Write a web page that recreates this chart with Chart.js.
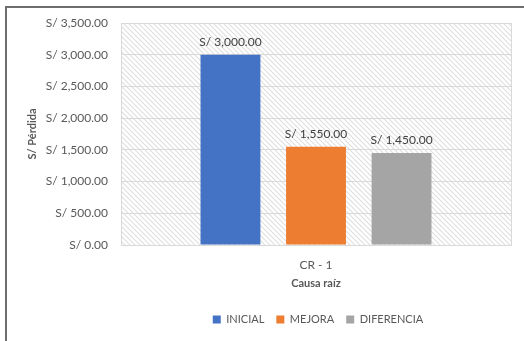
<!DOCTYPE html>
<html>
<head>
<meta charset="utf-8">
<script src="https://cdn.jsdelivr.net/npm/chart.js@4/dist/chart.umd.min.js"></script>
<style>
  html, body { margin: 0; padding: 0; background: #fff; overflow: hidden; }
  #frame { position: absolute; left: 5px; top: 6px; width: 700px; height: 500px; border: 2px solid #6e6e6e; box-sizing: border-box; }
  #wrap { position: absolute; left: 0; top: 0; width: 524px; height: 341px; }
</style>
</head>
<body>
<div id="frame"></div>
<div id="wrap"><canvas id="c" width="524" height="341"></canvas></div>
<script>
const categories = ["CR - 1"];
const seriesNames = ["INICIAL", "MEJORA", "DIFERENCIA"];
const inicial = [3000];
const mejora = [1550];
const diferencia = [1450];
const yTicks = [0, 500, 1000, 1500, 2000, 2500, 3000, 3500];
const colors = ["#4472c4", "#ed7d31", "#a5a5a5"];

const fmt = v => "S/ " + v.toLocaleString("en-US", {minimumFractionDigits: 2, maximumFractionDigits: 2});

function makePattern(ctx) {
  const t = document.createElement("canvas");
  t.width = 5; t.height = 5;
  const g = t.getContext("2d");
  g.fillStyle = "#ffffff"; g.fillRect(0, 0, 5, 5);
  g.strokeStyle = "#dedede"; g.lineWidth = 1.1;
  g.beginPath();
  g.moveTo(-1, -1); g.lineTo(6, 6);
  g.moveTo(-6, -1); g.lineTo(1, 6);
  g.moveTo(4, -1); g.lineTo(11, 6);
  g.stroke();
  return ctx.createPattern(t, "repeat");
}

const hatchPlugin = {
  id: "hatch",
  afterLayout(chart) {
    const lg = chart.legend, a = chart.chartArea;
    if (lg && a) {
      const shift = (a.left + a.right) / 2 - (lg.left + lg.right) / 2 + 2;
      lg.left += shift; lg.right += shift;
    }
  },
  beforeDraw(chart) {
    const {ctx, chartArea: a} = chart;
    ctx.save();
    ctx.fillStyle = makePattern(ctx);
    ctx.fillRect(a.left, a.top, a.right - a.left, a.bottom - a.top);
    ctx.restore();
  },
  afterDraw(chart) {
    const {ctx, chartArea: a} = chart;
    ctx.save();
    ctx.strokeStyle = "#d9d9d9"; ctx.lineWidth = 1;
    ctx.strokeRect(Math.round(a.left) + 0.5, Math.round(a.top) + 0.5, Math.round(a.right - a.left), Math.round(a.bottom - a.top));
    ctx.restore();
  }
};

const labelPlugin = {
  id: "barLabels",
  afterDatasetsDraw(chart) {
    const ctx = chart.ctx;
    ctx.save();
    ctx.font = "12px Lato";
    ctx.fillStyle = "#404040";
    ctx.textAlign = "center";
    ctx.textBaseline = "bottom";
    chart.data.datasets.forEach((ds, i) => {
      const meta = chart.getDatasetMeta(i);
      meta.data.forEach((el, j) => {
        ctx.fillText(fmt(ds.data[j]), el.x, el.y - 7);
      });
    });
    ctx.restore();
  }
};

new Chart(document.getElementById("c"), {
  type: "bar",
  data: {
    labels: categories,
    datasets: [
      { label: seriesNames[0], data: inicial, backgroundColor: colors[0] },
      { label: seriesNames[1], data: mejora, backgroundColor: colors[1] },
      { label: seriesNames[2], data: diferencia, backgroundColor: colors[2] }
    ]
  },
  options: {
    responsive: false,
    animation: false,
    devicePixelRatio: 1,
    barPercentage: 0.7,
    categoryPercentage: 0.658,
    layout: { padding: { left: 20, right: 13, top: 23, bottom: 6 } },
    plugins: {
      legend: {
        position: "bottom",
        labels: {
          boxWidth: 8, boxHeight: 8, padding: 12,
          color: "#595959",
          font: { family: "Lato", size: 11 }
        }
      },
      tooltip: { enabled: false }
    },
    scales: {
      x: {
        afterFit(scale) { scale.height = 57; },
        grid: { display: false, drawTicks: false },
        border: { display: false },
        ticks: { color: "#595959", font: { family: "Lato", size: 12 }, padding: 13 },
        title: { display: true, text: "Causa raíz", color: "#595959", font: { family: "Lato", size: 11, weight: "bold" }, padding: { top: 0, bottom: 12 } }
      },
      y: {
        min: 0, max: 3500,
        afterBuildTicks(scale) { scale.ticks = yTicks.map(v => ({ value: v })); },
        afterFit(scale) { scale.width = 101; },
        grid: { color: "#d9d9d9", drawTicks: false },
        border: { display: false },
        ticks: { color: "#595959", font: { family: "Lato", size: 12 }, padding: 13, callback: v => fmt(v) },
        title: { display: true, text: "S/ Pérdida", color: "#595959", font: { family: "Lato", size: 11, weight: "bold" }, padding: { top: 6, bottom: 0 } }
      }
    }
  },
  plugins: [hatchPlugin, labelPlugin]
});
</script>
</body>
</html>
